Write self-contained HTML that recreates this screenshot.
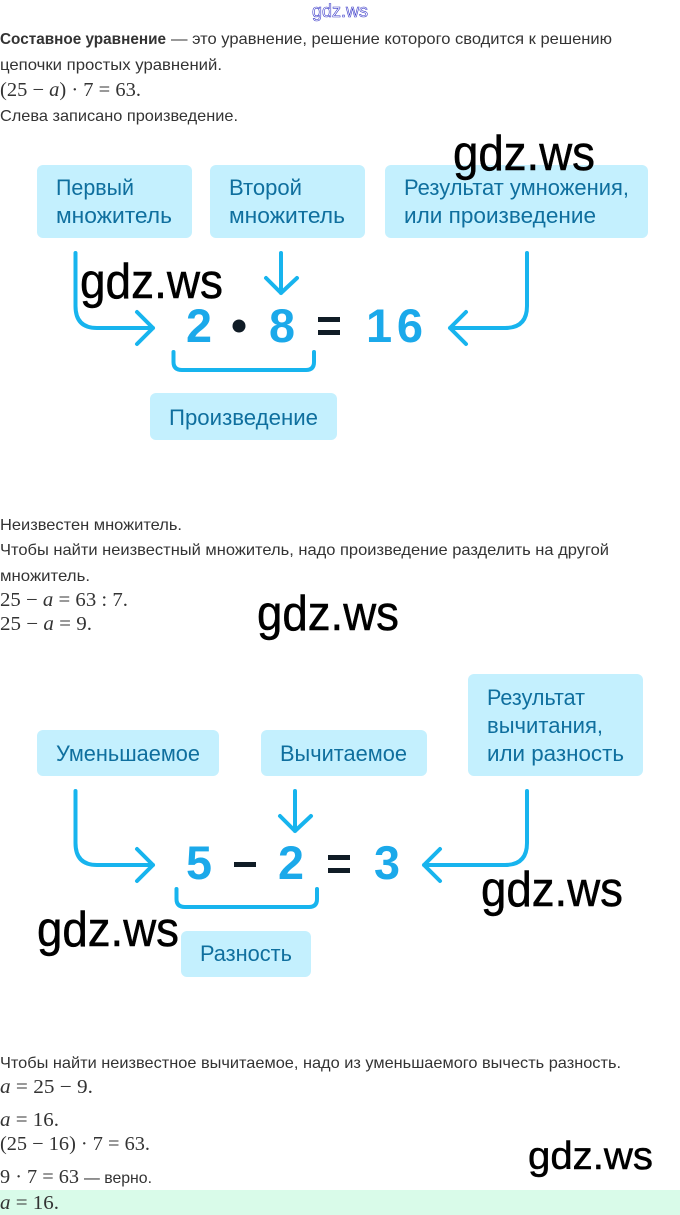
<!DOCTYPE html>
<html lang="ru"><head><meta charset="utf-8"><title>Составное уравнение</title>
<style>
html,body{margin:0;padding:0;background:#fff;width:680px;height:1215px;overflow:hidden}
svg{display:block}
text{font-family:"Liberation Sans","DejaVu Sans",sans-serif}
.t{font-size:16px;fill:#333}
.m{font-family:"Liberation Serif","DejaVu Serif",serif;font-size:20px;fill:#333}
.b{font-size:22px;fill:#0f6f9e}
.w{font-size:49px;fill:#000;stroke:#000;stroke-width:.5}
.d{font-size:47px;font-weight:bold;fill:#1ba9ea}
.box{fill:#c4f0fe}
.a{fill:none;stroke:#17b4ee;stroke-width:4;stroke-linecap:round;stroke-linejoin:round}
.k{fill:#101c26}
</style></head><body>
<svg width="680" height="1215" viewBox="0 0 680 1215" xmlns="http://www.w3.org/2000/svg">
<text x="312" y="17" textLength="56" lengthAdjust="spacingAndGlyphs" style="font-size:18px;fill:#fff;stroke:#3a3ac8;stroke-width:.6">gdz.ws</text>

<text class="t" x="0" y="44" textLength="166" lengthAdjust="spacingAndGlyphs" style="font-weight:bold">Составное уравнение</text>
<text class="t" x="171" y="44" textLength="441" lengthAdjust="spacingAndGlyphs">— это уравнение, решение которого сводится к решению</text>
<text class="t" x="0" y="70" textLength="222" lengthAdjust="spacingAndGlyphs">цепочки простых уравнений.</text>
<text class="m" x="0" y="96" textLength="141" lengthAdjust="spacingAndGlyphs">(25 − <tspan font-style="italic">a</tspan>) · 7 = 63.</text>
<text class="t" x="0" y="121" textLength="238" lengthAdjust="spacingAndGlyphs">Слева записано произведение.</text>

<rect class="box" x="37" y="165" width="155" height="73" rx="6"/>
<rect class="box" x="210" y="165" width="155" height="73" rx="6"/>
<rect class="box" x="385" y="165" width="263" height="73" rx="6"/>
<text class="b" x="56" y="195" textLength="78" lengthAdjust="spacingAndGlyphs">Первый</text>
<text class="b" x="56" y="223" textLength="116" lengthAdjust="spacingAndGlyphs">множитель</text>
<text class="b" x="229" y="195" textLength="73" lengthAdjust="spacingAndGlyphs">Второй</text>
<text class="b" x="229" y="223" textLength="116" lengthAdjust="spacingAndGlyphs">множитель</text>
<text class="b" x="404" y="195" textLength="225" lengthAdjust="spacingAndGlyphs">Результат умножения,</text>
<text class="b" x="404" y="223" textLength="192" lengthAdjust="spacingAndGlyphs">или произведение</text>

<path class="a" d="M75.500 253V306Q75.500 328 97 328H153M137 312L153 328L137 344"/>
<path class="a" d="M281 253V293M266 278L281 293L297 278"/>
<path class="a" d="M527 253V306Q527 328 505 328H450M466 312L450 328L466 344"/>
<text class="d" x="186" y="342" textLength="26" lengthAdjust="spacingAndGlyphs">2</text>
<circle class="k" cx="239" cy="326" r="6.500"/>
<text class="d" x="269" y="342" textLength="26" lengthAdjust="spacingAndGlyphs">8</text>
<rect class="k" x="318" y="317" width="22" height="5"/>
<rect class="k" x="318" y="330" width="22" height="5"/>
<text class="d" x="366" y="342" textLength="57" lengthAdjust="spacing">16</text>
<path class="a" d="M173.500 352V362Q173.500 370 182 370H306Q314 370 314 362V352"/>
<rect class="box" x="150" y="393" width="187" height="47" rx="6"/>
<text class="b" x="169" y="425" textLength="149" lengthAdjust="spacingAndGlyphs">Произведение</text>

<text class="t" x="0" y="530" textLength="182" lengthAdjust="spacingAndGlyphs">Неизвестен множитель.</text>
<text class="t" x="0" y="555" textLength="609" lengthAdjust="spacingAndGlyphs">Чтобы найти неизвестный множитель, надо произведение разделить на другой</text>
<text class="t" x="0" y="581" textLength="90" lengthAdjust="spacingAndGlyphs">множитель.</text>
<text class="m" x="0" y="606" textLength="128" lengthAdjust="spacingAndGlyphs">25 − <tspan font-style="italic">a</tspan> = 63 : 7.</text>
<text class="m" x="0" y="630" textLength="92" lengthAdjust="spacingAndGlyphs">25 − <tspan font-style="italic">a</tspan> = 9.</text>

<rect class="box" x="37" y="730" width="182" height="46" rx="6"/>
<rect class="box" x="261" y="730" width="166" height="46" rx="6"/>
<rect class="box" x="468" y="674" width="175" height="102" rx="6"/>
<text class="b" x="56" y="761" textLength="144" lengthAdjust="spacingAndGlyphs">Уменьшаемое</text>
<text class="b" x="280" y="761" textLength="127" lengthAdjust="spacingAndGlyphs">Вычитаемое</text>
<text class="b" x="487" y="705" textLength="98" lengthAdjust="spacingAndGlyphs">Результат</text>
<text class="b" x="487" y="733" textLength="116" lengthAdjust="spacingAndGlyphs">вычитания,</text>
<text class="b" x="487" y="761" textLength="137" lengthAdjust="spacingAndGlyphs">или разность</text>

<path class="a" d="M75.500 791V843Q75.500 865 97 865H153M137 849L153 865L137 881"/>
<path class="a" d="M295 791V831M280 816L295 831L311 816"/>
<path class="a" d="M527 791V843Q527 865 505 865H424M440 849L424 865L440 881"/>
<text class="d" x="186" y="879" textLength="26" lengthAdjust="spacingAndGlyphs">5</text>
<rect class="k" x="234" y="862" width="22" height="5"/>
<text class="d" x="278" y="879" textLength="26" lengthAdjust="spacingAndGlyphs">2</text>
<rect class="k" x="328" y="855" width="22" height="5"/>
<rect class="k" x="328" y="868" width="22" height="5"/>
<text class="d" x="374" y="879" textLength="26" lengthAdjust="spacingAndGlyphs">3</text>
<path class="a" d="M176.500 889V899Q176.500 907 185 907H309Q317 907 317 899V889"/>
<rect class="box" x="181" y="931" width="130" height="46" rx="6"/>
<text class="b" x="200" y="961" textLength="92" lengthAdjust="spacingAndGlyphs">Разность</text>

<text class="t" x="0" y="1068" textLength="621" lengthAdjust="spacingAndGlyphs">Чтобы найти неизвестное вычитаемое, надо из уменьшаемого вычесть разность.</text>
<text class="m" x="0" y="1093" textLength="93" lengthAdjust="spacingAndGlyphs"><tspan font-style="italic">a</tspan> = 25 − 9.</text>
<text class="m" x="0" y="1126" textLength="59" lengthAdjust="spacingAndGlyphs"><tspan font-style="italic">a</tspan> = 16.</text>
<text class="m" x="0" y="1150" textLength="150" lengthAdjust="spacingAndGlyphs">(25 − 16) · 7 = 63.</text>
<text class="m" x="0" y="1183" textLength="79" lengthAdjust="spacingAndGlyphs">9 · 7 = 63</text>
<text class="t" x="84" y="1183" textLength="68" lengthAdjust="spacingAndGlyphs">— верно.</text>
<rect x="0" y="1190" width="680" height="25" fill="#d9fbe9"/>
<text class="m" x="0" y="1209" textLength="59" lengthAdjust="spacingAndGlyphs"><tspan font-style="italic">a</tspan> = 16.</text>

<text class="w" x="453" y="170" textLength="142" lengthAdjust="spacingAndGlyphs">gdz.ws</text>
<text class="w" x="80" y="298" textLength="143" lengthAdjust="spacingAndGlyphs">gdz.ws</text>
<text class="w" x="257" y="630" textLength="142" lengthAdjust="spacingAndGlyphs">gdz.ws</text>
<text class="w" x="481" y="906" textLength="142" lengthAdjust="spacingAndGlyphs">gdz.ws</text>
<text class="w" x="37" y="946" textLength="142" lengthAdjust="spacingAndGlyphs">gdz.ws</text>
<text class="w" x="528" y="1169" textLength="125" lengthAdjust="spacingAndGlyphs" style="font-size:39px">gdz.ws</text>
</svg>
</body></html>
